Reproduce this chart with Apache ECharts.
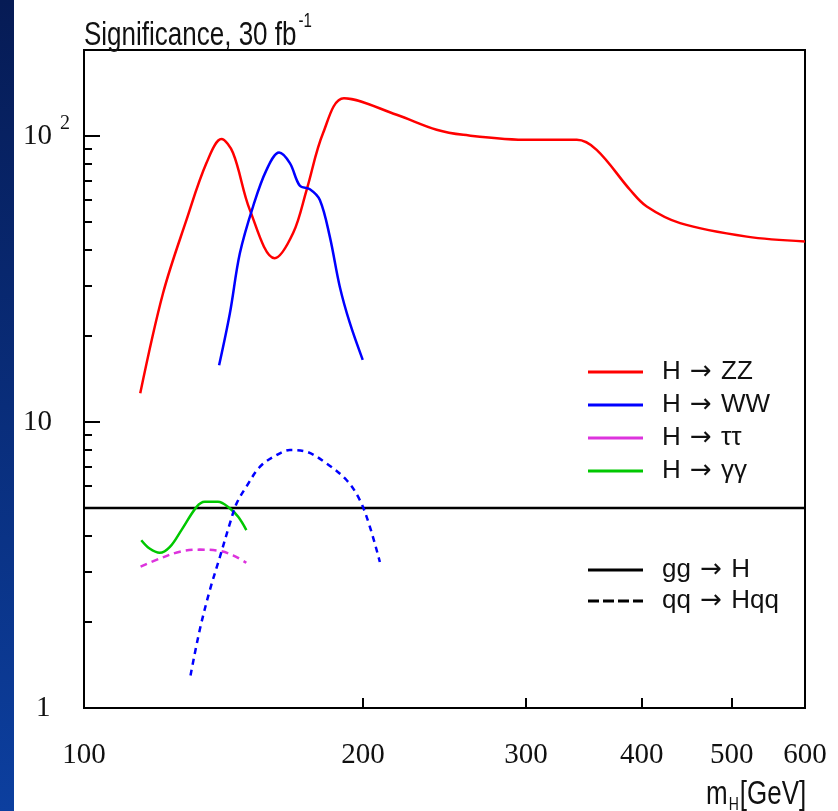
<!DOCTYPE html>
<html><head><meta charset="utf-8">
<script src="https://cdn.jsdelivr.net/npm/echarts@6/dist/echarts.min.js"></script>
<style>html,body{margin:0;padding:0;background:#fff}#c{width:838px;height:811px}</style>
</head><body><div id="c"></div>
<script>
// ---- tick values ----
const xTickLabels = [100, 200, 300, 400, 500, 600];
const xTickMarks = [200, 300, 400, 500];
const yTickLabels = [1, 10, 100];
const yMajorTicks = [10, 100];
const yMinorTicks = [2, 3, 4, 5, 6, 7, 8, 9, 20, 30, 40, 50, 60, 70, 80, 90];

// ---- H -> ZZ (gg -> H) ----
const zzMass = [115, 121.7, 129, 135.6, 140.7, 144.8, 151, 160.6, 168.2, 173.9, 181.2, 190.8, 217.5, 240.2, 256.6, 302.9, 340.3, 357.5, 388.4, 404.9, 439.9, 519.3, 600];
const zzSig  = [12.6, 28.2, 50.9, 80.6, 97.6, 87.4, 55.2, 37.4, 45.9, 64.9, 102.7, 135.6, 118.7, 105.2, 101, 97, 97, 89.5, 64.9, 56.7, 49.6, 44.5, 42.8];
// ---- H -> WW (gg -> H) ----
const wwMass = [139.9, 143.7, 147.3, 152.2, 157.4, 162.4, 166.8, 171, 175.3, 179.7, 184.2, 188.8, 193.6, 199.9];
const wwSig  = [15.8, 24, 38.9, 56.7, 76.2, 87.6, 80.4, 67, 65.2, 59.8, 44.5, 29.8, 22.2, 16.5];
// ---- H -> WW (qq -> Hqq) ----
const wwVbfMass = [130.3, 133.3, 136.7, 140.2, 143.7, 146.1, 149.7, 154.8, 161.3, 166.8, 173.9, 182.7, 192, 198.5, 203.5, 208.6];
const wwVbfSig  = [1.3, 1.87, 2.58, 3.38, 4.42, 5.19, 5.94, 6.97, 7.66, 7.98, 7.87, 7.17, 6.27, 5.33, 4.3, 3.24];
// ---- H -> gamma gamma (gg -> H) ----
const ggMass = [115.3, 117.7, 120.7, 123.8, 127.4, 132.3, 135, 139.5, 143.7, 146.7, 149.7];
const ggSig  = [3.86, 3.61, 3.49, 3.66, 4.19, 5.05, 5.26, 5.26, 4.99, 4.66, 4.19];
// ---- H -> tau tau (qq -> Hqq) ----
const ttMass = [115.1, 120.7, 126.9, 133.3, 140.2, 144.8, 149.7];
const ttSig  = [3.12, 3.33, 3.52, 3.58, 3.54, 3.42, 3.22];
// ---- 5 sigma line ----
const fiveMass = [100, 600];
const fiveSig  = [5, 5];

const pairs = (xs, ys) => xs.map((x, i) => [x, ys[i]]);
const SANS = '"Liberation Sans", Arial, sans-serif';
const SERIF = '"Liberation Serif", "Times New Roman", serif';
const DASH_ICON = 'path://M0,0h11v3h-11z M15,0h11v3h-11z M30,0h11v3h-11z M45,0h10v3h-10z';

const chart = echarts.init(document.getElementById('c'), null, {renderer: 'canvas'});
const lineS = (name, xs, ys, color, type, w) => ({
  name, type: 'line', data: pairs(xs, ys), smooth: 0.35, symbol: 'none',
  xAxisIndex: 0, yAxisIndex: 0,
  lineStyle: {color, width: w || 2.5, type: type || 'solid'}, itemStyle: {color},
  z: 3
});

const legendText = {fontFamily: SANS, fontSize: 26, color: '#111', padding: [0, 0, 0, 14],
  rich: {t: {fontFamily: SANS, fontSize: 26, color: '#111'},
         ar: {fontFamily: '"DejaVu Sans", sans-serif', fontSize: 26, color: '#111', padding: [0, 2, 0, 2]}}};
const legendFmt = name => {
  const p = name.split('→');
  return '{t|' + p[0].trim() + ' }{ar|→}{t| ' + p[1].trim() + '}';
};

chart.setOption({
  animation: false,
  backgroundColor: '#fff',
  graphic: [
    {type: 'rect', left: 0, top: 0, shape: {width: 14, height: 811}, silent: true,
     style: {fill: {type: 'linear', x: 0, y: 0, x2: 0, y2: 1,
       colorStops: [{offset: 0, color: '#061b55'}, {offset: 1, color: '#0c3f9f'}]}}},
    {type: 'text', x: 84, y: 12, scaleY: 1.3, silent: true,
     style: {x: 0, y: 0, verticalAlign: 'top', text: '{a|Significance, 30 fb}{s|-1}', fill: '#111',
       rich: {a: {fontFamily: SANS, fontSize: 26, lineHeight: 36},
              s: {fontFamily: SANS, fontSize: 15, lineHeight: 15, verticalAlign: 'top', padding: [0, 0, 0, 2]}}}},
    {type: 'text', x: 706, y: 775, scaleY: 1.3, silent: true,
     style: {x: 0, y: 0, verticalAlign: 'top', text: '{a|m}{s|H}{a|[GeV]}', fill: '#111',
       rich: {a: {fontFamily: SANS, fontSize: 26, lineHeight: 30},
              s: {fontFamily: SANS, fontSize: 14, lineHeight: 14, verticalAlign: 'bottom', padding: [0, 1, 0, 1]}}}}
  ],
  grid: {left: 84, top: 50, right: 33, bottom: 103, show: true, borderColor: '#000', borderWidth: 2, backgroundColor: 'transparent'},
  xAxis: {
    type: 'log', logBase: 10, min: 100, max: 600,
    axisLine: {show: true, lineStyle: {color: '#000', width: 2}},
    axisTick: {show: true, inside: true, length: 10, customValues: xTickMarks, lineStyle: {color: '#000', width: 2}},
    axisLabel: {show: true, customValues: xTickLabels, margin: 33, fontFamily: SERIF, fontSize: 29, color: '#111',
      formatter: v => String(Math.round(v))},
    splitLine: {show: false}, minorTick: {show: false}
  },
  yAxis: [{
    type: 'log', logBase: 10, min: 1, max: 200,
    axisLine: {show: true, lineStyle: {color: '#000', width: 2}},
    axisTick: {show: true, inside: true, length: 16, customValues: yMajorTicks, lineStyle: {color: '#000', width: 2}},
    axisLabel: {show: true, customValues: yTickLabels, margin: 61, align: 'left', color: '#111',
      formatter: v => {
        const r = Math.round(v);
        if (r === 100) return '{b|10}{s|2}';
        if (r === 1) return '{o|1}';
        return '{b|10}';
      },
      rich: {b: {fontFamily: SERIF, fontSize: 29, lineHeight: 44},
             o: {fontFamily: SERIF, fontSize: 29, lineHeight: 44, padding: [0, 0, 0, 13]},
             s: {fontFamily: SERIF, fontSize: 20, lineHeight: 20, verticalAlign: 'top', padding: [0, 0, 0, 8]}}},
    splitLine: {show: false}
  }, {
    type: 'log', logBase: 10, min: 1, max: 200, position: 'left',
    axisLine: {show: false},
    axisTick: {show: true, inside: true, length: 8, customValues: yMinorTicks, lineStyle: {color: '#000', width: 2}},
    axisLabel: {show: false}, splitLine: {show: false}
  }],
  legend: [{
    orient: 'vertical', left: 588, top: 359, padding: 0, itemWidth: 55, itemHeight: 3, itemGap: 7,
    selectedMode: false, icon: 'rect', textStyle: legendText, formatter: legendFmt,
    data: [{name: 'H → ZZ'}, {name: 'H → WW'}, {name: 'H → ττ'}, {name: 'H → γγ'}]
  }, {
    orient: 'vertical', left: 588, top: 557, padding: 0, itemWidth: 55, itemHeight: 3, itemGap: 5,
    selectedMode: false, textStyle: legendText, formatter: legendFmt,
    data: [{name: 'gg → H', icon: 'rect'}, {name: 'qq → Hqq', icon: DASH_ICON}]
  }],
  series: [
    lineS('H → ZZ', zzMass, zzSig, '#ff0000'),
    lineS('H → WW', wwMass, wwSig, '#0000ff'),
    lineS('H → ττ', ttMass, ttSig, '#dd33dd', [7, 5]),
    lineS('H → γγ', ggMass, ggSig, '#00c800'),
    lineS('qq → Hqq, H → WW', wwVbfMass, wwVbfSig, '#0000ff', [6, 5]),
    Object.assign(lineS('5σ', fiveMass, fiveSig, '#000000', 'solid', 2.5), {smooth: false, z: 2}),
    {name: 'gg → H', type: 'line', data: [], symbol: 'none', lineStyle: {color: '#000', width: 2.5}, itemStyle: {color: '#000'}},
    {name: 'qq → Hqq', type: 'line', data: [], symbol: 'none', lineStyle: {color: '#000', width: 2.5, type: [9, 5]}, itemStyle: {color: '#000'}}
  ]
});
</script></body></html>
